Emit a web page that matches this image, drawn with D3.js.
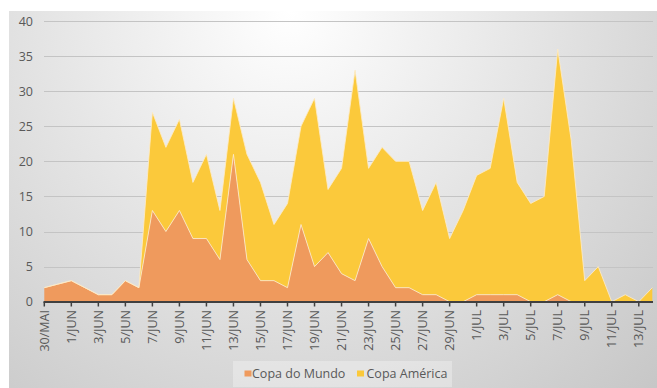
<!DOCTYPE html>
<html>
<head>
<meta charset="utf-8">
<script src="https://cdn.jsdelivr.net/npm/d3@7"></script>
<style>
  html, body { margin: 0; padding: 0; background: #ffffff; }
  svg { display: block; }
  text { font-family: "Open Sans", "Noto Sans", sans-serif; }
</style>
</head>
<body>
<svg id="chart" width="657" height="388"></svg>
<script>
// Daily counts, 30/MAI to 14/JUL
const dates = [
  "30/MAI","31/MAI","1/JUN","2/JUN","3/JUN","4/JUN","5/JUN","6/JUN","7/JUN","8/JUN",
  "9/JUN","10/JUN","11/JUN","12/JUN","13/JUN","14/JUN","15/JUN","16/JUN","17/JUN","18/JUN",
  "19/JUN","20/JUN","21/JUN","22/JUN","23/JUN","24/JUN","25/JUN","26/JUN","27/JUN","28/JUN",
  "29/JUN","30/JUN","1/JUL","2/JUL","3/JUL","4/JUL","5/JUL","6/JUL","7/JUL","8/JUL",
  "9/JUL","10/JUL","11/JUL","12/JUL","13/JUL","14/JUL"
];
const copaDoMundo = [
  2, 2.5, 3, 2, 1, 1, 3, 2, 13, 10,
  13, 9, 9, 6, 21, 6, 3, 3, 2, 11,
  5, 7, 4, 3, 9, 5, 2, 2, 1, 1,
  0, 0, 1, 1, 1, 1, 0, 0, 1, 0,
  0, 0, 0, 0, 0, 0
];
const copaAmerica = [
  0, 0, 0, 0, 0, 0, 0, 0, 14, 12,
  13, 8, 12, 7, 8, 15, 14, 8, 12, 14,
  24, 9, 15, 30, 10, 17, 18, 18, 12, 16,
  9, 13, 17, 18, 28, 16, 14, 15, 35, 23,
  3, 5, 0, 1, 0, 2
];
const seriesNames = ["Copa do Mundo", "Copa América"];
const yTicks = [0, 5, 10, 15, 20, 25, 30, 35, 40];

const colors = { "Copa do Mundo": "#ef9a5d", "Copa América": "#fbc93b" };

const svg = d3.select("#chart");
const W = 657, H = 388;

// background panel with soft radial shading
const defs = svg.append("defs");
const grad = defs.append("radialGradient")
  .attr("id", "bg").attr("gradientUnits", "userSpaceOnUse")
  .attr("cx", 290).attr("cy", 12).attr("r", 560);
grad.append("stop").attr("offset", 0).attr("stop-color", "#ffffff");
grad.append("stop").attr("offset", 0.45).attr("stop-color", "#e4e4e4");
grad.append("stop").attr("offset", 1).attr("stop-color", "#c3c3c3");

svg.append("rect").attr("x", 9).attr("y", 11).attr("width", W - 9).attr("height", H - 11)
  .attr("fill", "url(#bg)");

const x = d3.scalePoint().domain(dates).range([44.3, 652.3]).padding(0);
const y = d3.scaleLinear().domain([0, 40]).range([301.7, 21]);

// gridlines
svg.append("g").selectAll("line").data(yTicks.filter(d => d > 0)).join("line")
  .attr("x1", 44).attr("x2", 653)
  .attr("y1", d => Math.round(y(d)) + 0.5).attr("y2", d => Math.round(y(d)) + 0.5)
  .attr("stroke", "#c4c4c4").attr("stroke-width", 1);

// stacked areas
const table = dates.map((d, i) => ({
  date: d, "Copa do Mundo": copaDoMundo[i], "Copa América": copaAmerica[i]
}));
const stack = d3.stack().keys(seriesNames)(table);

const area = d3.area()
  .x(d => x(d.data.date))
  .y0(d => y(d[0]))
  .y1(d => y(d[1]));
const topLine = d3.line()
  .x(d => x(d.data.date))
  .y(d => y(d[1]));

const gA = svg.append("g");
// draw upper series first so the lower one's edge sits above
stack.slice().reverse().forEach(s => {
  gA.append("path").datum(s).attr("d", area)
    .attr("fill", colors[s.key]);
});
stack.slice().reverse().forEach(s => {
  gA.append("path").datum(s).attr("d", topLine)
    .attr("fill", "none")
    .attr("stroke", "#fdebc8").attr("stroke-opacity", 0.85)
    .attr("stroke-width", 1);
});

// y axis labels
svg.append("g").selectAll("text").data(yTicks).join("text")
  .attr("x", 33).attr("y", d => y(d)).attr("dy", "0.36em")
  .attr("text-anchor", "end")
  .attr("font-size", 12.5).attr("fill", "#595959")
  .text(d => d);

// x axis
const labelled = dates.filter((d, i) => i % 2 === 0);
const gx = svg.append("g");
gx.append("line").attr("x1", 43.5).attr("x2", 653)
  .attr("y1", 302).attr("y2", 302)
  .attr("stroke", "#404040").attr("stroke-width", 2);
gx.selectAll("line.tick").data(labelled).join("line")
  .attr("class", "tick")
  .attr("x1", d => x(d)).attr("x2", d => x(d))
  .attr("y1", 302).attr("y2", 306.5)
  .attr("stroke", "#404040").attr("stroke-width", 1.5);
gx.selectAll("text").data(labelled).join("text")
  .attr("transform", d => `translate(${x(d)},310) rotate(-90)`)
  .attr("dy", "0.36em")
  .attr("text-anchor", "end")
  .attr("font-size", 12.5).attr("fill", "#595959")
  .text(d => d);

// legend
const lg = svg.append("g");
lg.append("rect").attr("x", 233).attr("y", 361).attr("width", 219).attr("height", 26)
  .attr("fill", "#ffffff").attr("fill-opacity", 0.3);
const legendItems = [
  { name: seriesNames[0], sx: 244.5, tx: 252 },
  { name: seriesNames[1], sx: 357, tx: 366.5 }
];
legendItems.forEach(it => {
  lg.append("rect").attr("x", it.sx).attr("y", 370.5).attr("width", 7).attr("height", 6)
    .attr("fill", colors[it.name]);
  lg.append("text").attr("x", it.tx).attr("y", 373.5).attr("dy", "0.36em")
    .attr("font-size", 12.5).attr("fill", "#595959")
    .text(it.name);
});
</script>
</body>
</html>
